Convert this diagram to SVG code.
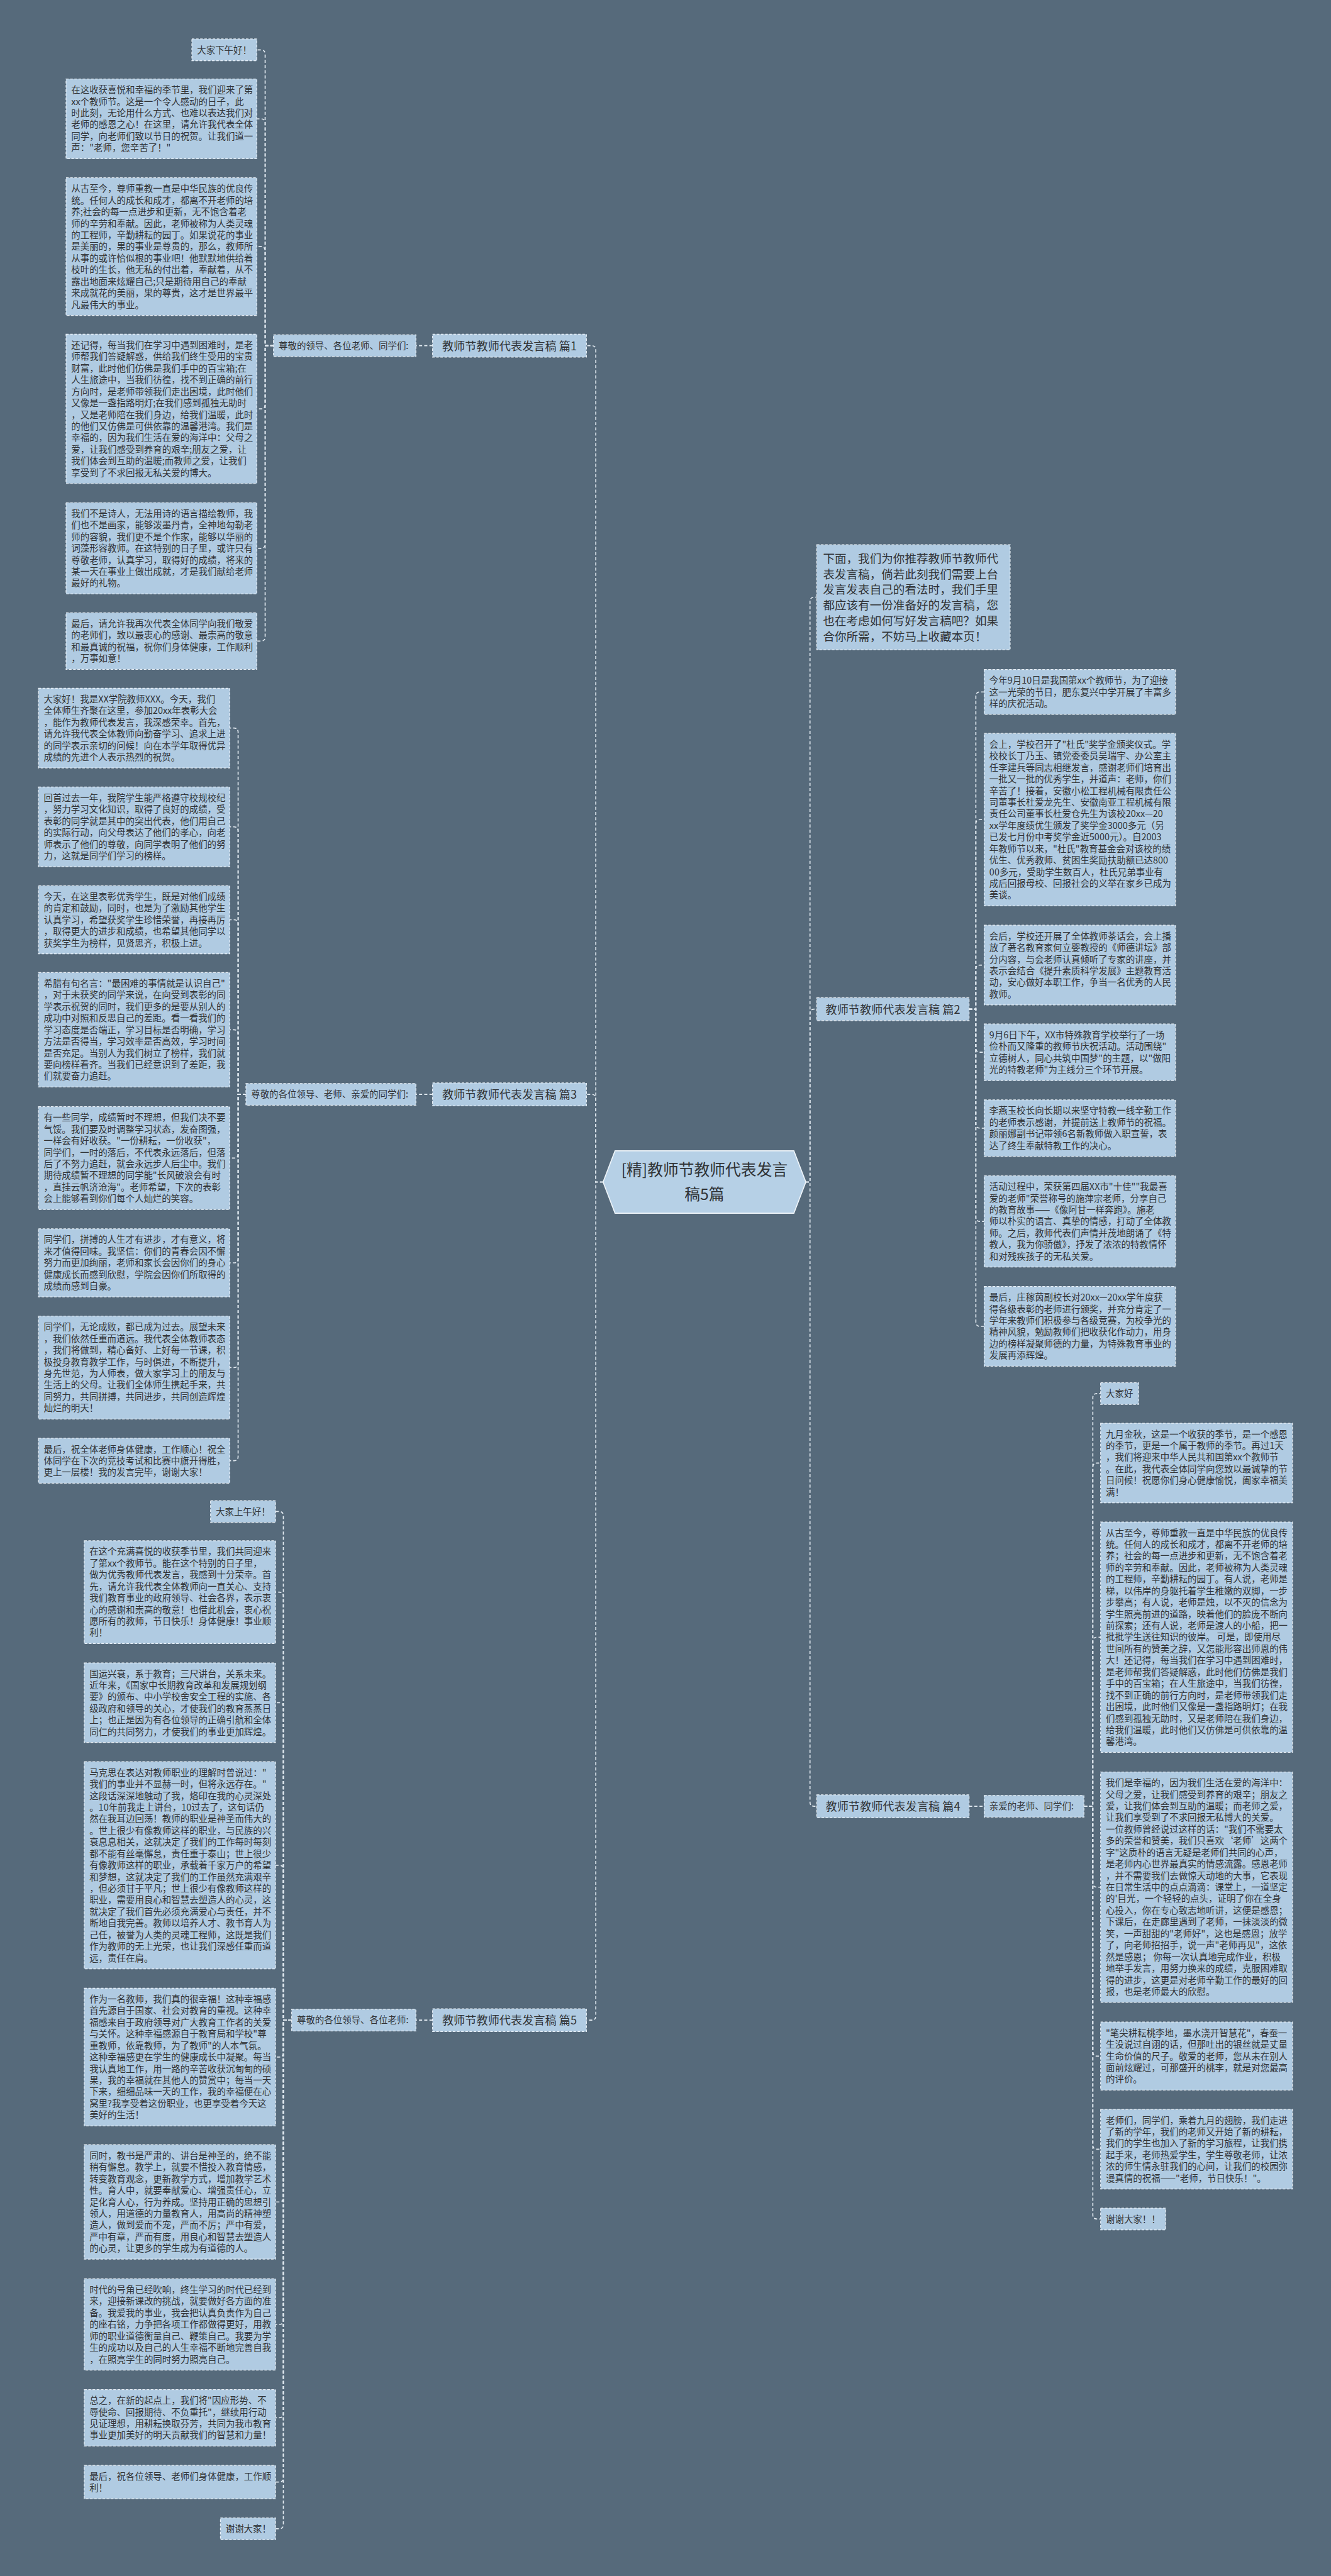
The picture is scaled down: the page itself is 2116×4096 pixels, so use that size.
<svg xmlns="http://www.w3.org/2000/svg" width="2116" height="4096" viewBox="0 0 2116 4096">
<style>
.b{fill:#b0cbe2;stroke:#e8eff6;stroke-width:1.5;stroke-dasharray:5 3}
.t{font-family:"Noto Sans CJK SC","Noto Sans CJK JP",sans-serif;font-size:17.5px;fill:#303336}
.ti{font-family:"Noto Sans CJK SC","Noto Sans CJK JP",sans-serif;font-size:22.5px;fill:#303336}
.tb{font-family:"Noto Sans CJK SC","Noto Sans CJK JP",sans-serif;font-size:22px;fill:#303336;text-anchor:middle}
.tm{font-family:"Noto Sans CJK SC","Noto Sans CJK JP",sans-serif;font-size:30px;fill:#303336;text-anchor:middle}
.c{fill:none;stroke:#e3ebf2;stroke-width:2;stroke-dasharray:6 4}
</style>
<rect x="0" y="0" width="2116" height="4096" fill="#566a7b"/>
<g transform="scale(0.82652)">
<g id="connectors">
<path class="c" d="M526 665 H510 V104 Q510 96 502 96 H494"/>
<path class="c" d="M526 665 H510 V236.65 Q510 228.65 502 228.65 H494"/>
<path class="c" d="M526 665 H510 V482.4 Q510 474.4 502 474.4 H494"/>
<path class="c" d="M526 665 H510 V778.55 Q510 786.55 502 786.55 H494"/>
<path class="c" d="M526 665 H510 V1046.8 Q510 1054.8 502 1054.8 H494"/>
<path class="c" d="M526 665 H510 V1225.35 Q510 1233.35 502 1233.35 H494"/>
<path class="c" d="M832 665 H800"/>
<path class="c" d="M473 2105.4 H458 V1408.65 Q458 1400.65 450 1400.65 H442"/>
<path class="c" d="M473 2105.4 H458 V1598.65 Q458 1590.65 450 1590.65 H442"/>
<path class="c" d="M473 2105.4 H458 V1777.5 Q458 1769.5 450 1769.5 H442"/>
<path class="c" d="M473 2105.4 H458 V1989.1 Q458 1981.1 450 1981.1 H442"/>
<path class="c" d="M473 2105.4 H458 V2219.95 Q458 2227.95 450 2227.95 H442"/>
<path class="c" d="M473 2105.4 H458 V2421.5 Q458 2429.5 450 2429.5 H442"/>
<path class="c" d="M473 2105.4 H458 V2622.95 Q458 2630.95 450 2630.95 H442"/>
<path class="c" d="M473 2105.4 H458 V2802.2 Q458 2810.2 450 2810.2 H442"/>
<path class="c" d="M832 2105.4 H800"/>
<path class="c" d="M561 3886.4 H545 V2915.9 Q545 2907.9 537 2907.9 H530"/>
<path class="c" d="M561 3886.4 H545 V3070.95 Q545 3062.95 537 3062.95 H530"/>
<path class="c" d="M561 3886.4 H545 V3283.65 Q545 3275.65 537 3275.65 H530"/>
<path class="c" d="M561 3886.4 H545 V3596.3 Q545 3588.3 537 3588.3 H530"/>
<path class="c" d="M561 3886.4 H545 V3949.4 Q545 3957.4 537 3957.4 H530"/>
<path class="c" d="M561 3886.4 H545 V4228.1 Q545 4236.1 537 4236.1 H530"/>
<path class="c" d="M561 3886.4 H545 V4463.8 Q545 4471.8 537 4471.8 H530"/>
<path class="c" d="M561 3886.4 H545 V4643.35 Q545 4651.35 537 4651.35 H530"/>
<path class="c" d="M561 3886.4 H545 V4767.05 Q545 4775.05 537 4775.05 H530"/>
<path class="c" d="M561 3886.4 H545 V4856.9 Q545 4864.9 537 4864.9 H530"/>
<path class="c" d="M832 3886.4 H800"/>
<path class="c" d="M1864 1941.4 H1877 V1339.2 Q1877 1331.2 1885 1331.2 H1893"/>
<path class="c" d="M1864 1941.4 H1877 V1584.85 Q1877 1576.85 1885 1576.85 H1893"/>
<path class="c" d="M1864 1941.4 H1877 V1864.65 Q1877 1856.65 1885 1856.65 H1893"/>
<path class="c" d="M1864 1941.4 H1877 V2016.35 Q1877 2024.35 1885 2024.35 H1893"/>
<path class="c" d="M1864 1941.4 H1877 V2162.35 Q1877 2170.35 1885 2170.35 H1893"/>
<path class="c" d="M1864 1941.4 H1877 V2341.8 Q1877 2349.8 1885 2349.8 H1893"/>
<path class="c" d="M1864 1941.4 H1877 V2543.65 Q1877 2551.65 1885 2551.65 H1893"/>
<path class="c" d="M2085 3474.9 H2102 V2688.9 Q2102 2680.9 2110 2680.9 H2117"/>
<path class="c" d="M2085 3474.9 H2102 V2822.65 Q2102 2814.65 2110 2814.65 H2117"/>
<path class="c" d="M2085 3474.9 H2102 V3157.6 Q2102 3149.6 2110 3149.6 H2117"/>
<path class="c" d="M2085 3474.9 H2102 V3622.6 Q2102 3630.6 2110 3630.6 H2117"/>
<path class="c" d="M2085 3474.9 H2102 V3947.5 Q2102 3955.5 2110 3955.5 H2117"/>
<path class="c" d="M2085 3474.9 H2102 V4126.65 Q2102 4134.65 2110 4134.65 H2117"/>
<path class="c" d="M2085 3474.9 H2102 V4260.9 Q2102 4268.9 2110 4268.9 H2117"/>
<path class="c" d="M1864 3474.9 H1893"/>
<path class="c" d="M1160 2274 H1146 V673 Q1146 665 1138 665 H1128"/>
<path class="c" d="M1160 2274 H1146 V2113.4 Q1146 2105.4 1138 2105.4 H1128"/>
<path class="c" d="M1160 2274 H1146 V3878.4 Q1146 3886.4 1138 3886.4 H1128"/>
<path class="c" d="M1550 2274 H1558 V1157 Q1558 1149 1566 1149 H1571"/>
<path class="c" d="M1550 2274 H1558 V1949.4 Q1558 1941.4 1566 1941.4 H1571"/>
<path class="c" d="M1550 2274 H1558 V3466.9 Q1558 3474.9 1566 3474.9 H1571"/>
</g>

<g id="main">
<polygon points="1160,2274 1183,2214 1527,2214 1550,2274 1527,2334 1183,2334" fill="#b6d0e6" stroke="#eef4f9" stroke-width="2"/>
<text class="tm" x="1355" y="2261">[精]教师节教师代表发言</text>
<text class="tm" x="1355" y="2309">稿5篇</text>
</g>

<g id="p1"><rect class="b" x="832" y="643" width="296" height="44"/><text class="tb" x="980" y="673.4">教师节教师代表发言稿 篇1</text></g>
<g id="p3"><rect class="b" x="832" y="2083.4" width="296" height="44"/><text class="tb" x="980" y="2113.8">教师节教师代表发言稿 篇3</text></g>
<g id="p5"><rect class="b" x="832" y="3864.4" width="296" height="44"/><text class="tb" x="980" y="3894.8">教师节教师代表发言稿 篇5</text></g>
<g id="p2"><rect class="b" x="1571" y="1919.4" width="293" height="44"/><text class="tb" x="1717.5" y="1949.8">教师节教师代表发言稿 篇2</text></g>
<g id="p4"><rect class="b" x="1571" y="3452.9" width="293" height="44"/><text class="tb" x="1717.5" y="3483.3">教师节教师代表发言稿 篇4</text></g>

<g id="intro"><rect class="b" x="1571" y="1048" width="372" height="202"/><text class="ti" x="1583" y="1082.5"><tspan x="1583">下面，我们为你推荐教师节教师代</tspan><tspan x="1583" dy="30">表发言稿，倘若此刻我们需要上台</tspan><tspan x="1583" dy="30">发言发表自己的看法时，我们手里</tspan><tspan x="1583" dy="30">都应该有一份准备好的发言稿，您</tspan><tspan x="1583" dy="30">也在考虑如何写好发言稿吧？如果</tspan><tspan x="1583" dy="30">合你所需，不妨马上收藏本页！</tspan></text></g>

<g id="labelA"><rect class="b" x="526" y="644.1" width="274" height="41.8"/><text class="t" x="536" y="671.4">尊敬的领导、各位老师、同学们:</text></g>
<g id="a1"><rect class="b" x="369" y="75" width="125" height="41.8"/><text class="t" x="379" y="102.3">大家下午好！</text></g>
<g id="a2"><rect class="b" x="127" y="152" width="367" height="153.3"/><text class="t" x="137" y="179.3"><tspan x="137">在这收获喜悦和幸福的季节里，我们迎来了第</tspan><tspan x="137" dy="22.3">xx个教师节。这是一个令人感动的日子，此</tspan><tspan x="137" dy="22.3">时此刻，无论用什么方式、也难以表达我们对</tspan><tspan x="137" dy="22.3">老师的感恩之心！在这里，请允许我代表全体</tspan><tspan x="137" dy="22.3">同学，向老师们致以节日的祝贺。让我们道一</tspan><tspan x="137" dy="22.3">声："老师，您辛苦了！"</tspan></text></g>
<g id="a3"><rect class="b" x="127" y="342" width="367" height="264.8"/><text class="t" x="137" y="369.3"><tspan x="137">从古至今，尊师重教一直是中华民族的优良传</tspan><tspan x="137" dy="22.3">统。任何人的成长和成才，都离不开老师的培</tspan><tspan x="137" dy="22.3">养;社会的每一点进步和更新，无不饱含着老</tspan><tspan x="137" dy="22.3">师的辛劳和奉献。因此，老师被称为人类灵魂</tspan><tspan x="137" dy="22.3">的工程师，辛勤耕耘的园丁。如果说花的事业</tspan><tspan x="137" dy="22.3">是美丽的，果的事业是尊贵的，那么，教师所</tspan><tspan x="137" dy="22.3">从事的或许恰似根的事业吧！他默默地供给着</tspan><tspan x="137" dy="22.3">枝叶的生长，他无私的付出着，奉献着，从不</tspan><tspan x="137" dy="22.3">露出地面来炫耀自己;只是期待用自己的奉献</tspan><tspan x="137" dy="22.3">来成就花的美丽，果的尊贵，这才是世界最平</tspan><tspan x="137" dy="22.3">凡最伟大的事业。</tspan></text></g>
<g id="a4"><rect class="b" x="127" y="643" width="367" height="287.1"/><text class="t" x="137" y="670.3"><tspan x="137">还记得，每当我们在学习中遇到困难时，是老</tspan><tspan x="137" dy="22.3">师帮我们答疑解惑，供给我们终生受用的宝贵</tspan><tspan x="137" dy="22.3">财富，此时他们仿佛是我们手中的百宝箱;在</tspan><tspan x="137" dy="22.3">人生旅途中，当我们彷徨，找不到正确的前行</tspan><tspan x="137" dy="22.3">方向时，是老师带领我们走出困境，此时他们</tspan><tspan x="137" dy="22.3">又像是一盏指路明灯;在我们感到孤独无助时</tspan><tspan x="137" dy="22.3">，又是老师陪在我们身边，给我们温暖，此时</tspan><tspan x="137" dy="22.3">的他们又仿佛是可供依靠的温馨港湾。我们是</tspan><tspan x="137" dy="22.3">幸福的，因为我们生活在爱的海洋中：父母之</tspan><tspan x="137" dy="22.3">爱，让我们感受到养育的艰辛;朋友之爱，让</tspan><tspan x="137" dy="22.3">我们体会到互助的温暖;而教师之爱，让我们</tspan><tspan x="137" dy="22.3">享受到了不求回报无私关爱的博大。</tspan></text></g>
<g id="a5"><rect class="b" x="127" y="967" width="367" height="175.6"/><text class="t" x="137" y="994.3"><tspan x="137">我们不是诗人，无法用诗的语言描绘教师，我</tspan><tspan x="137" dy="22.3">们也不是画家，能够泼墨丹青，全神地勾勒老</tspan><tspan x="137" dy="22.3">师的容貌，我们更不是个作家，能够以华丽的</tspan><tspan x="137" dy="22.3">词藻形容教师。在这特别的日子里，或许只有</tspan><tspan x="137" dy="22.3">尊敬老师，认真学习，取得好的成绩，将来的</tspan><tspan x="137" dy="22.3">某一天在事业上做出成就，才是我们献给老师</tspan><tspan x="137" dy="22.3">最好的礼物。</tspan></text></g>
<g id="a6"><rect class="b" x="127" y="1179" width="367" height="108.7"/><text class="t" x="137" y="1206.3"><tspan x="137">最后，请允许我再次代表全体同学向我们敬爱</tspan><tspan x="137" dy="22.3">的老师们，致以最衷心的感谢、最崇高的敬意</tspan><tspan x="137" dy="22.3">和最真诚的祝福，祝你们身体健康，工作顺利</tspan><tspan x="137" dy="22.3">，万事如意！</tspan></text></g>

<g id="labelB"><rect class="b" x="473" y="2084.5" width="327" height="41.8"/><text class="t" x="483" y="2111.8">尊敬的各位领导、老师、亲爱的同学们:</text></g>
<g id="b1"><rect class="b" x="74" y="1324" width="368" height="153.3"/><text class="t" x="84" y="1351.3"><tspan x="84">大家好！我是XX学院教师XXX。今天，我们</tspan><tspan x="84" dy="22.3">全体师生齐聚在这里，参加20xx年表彰大会</tspan><tspan x="84" dy="22.3">，能作为教师代表发言，我深感荣幸。首先，</tspan><tspan x="84" dy="22.3">请允许我代表全体教师向勤奋学习、追求上进</tspan><tspan x="84" dy="22.3">的同学表示亲切的问候！向在本学年取得优异</tspan><tspan x="84" dy="22.3">成绩的先进个人表示热烈的祝贺。</tspan></text></g>
<g id="b2"><rect class="b" x="74" y="1514" width="368" height="153.3"/><text class="t" x="84" y="1541.3"><tspan x="84">回首过去一年，我院学生能严格遵守校规校纪</tspan><tspan x="84" dy="22.3">，努力学习文化知识，取得了良好的成绩，受</tspan><tspan x="84" dy="22.3">表彰的同学就是其中的突出代表，他们用自己</tspan><tspan x="84" dy="22.3">的实际行动，向父母表达了他们的孝心，向老</tspan><tspan x="84" dy="22.3">师表示了他们的尊敬，向同学表明了他们的努</tspan><tspan x="84" dy="22.3">力，这就是同学们学习的榜样。</tspan></text></g>
<g id="b3"><rect class="b" x="74" y="1704" width="368" height="131"/><text class="t" x="84" y="1731.3"><tspan x="84">今天，在这里表彰优秀学生，既是对他们成绩</tspan><tspan x="84" dy="22.3">的肯定和鼓励，同时，也是为了激励其他学生</tspan><tspan x="84" dy="22.3">认真学习，希望获奖学生珍惜荣誉，再接再厉</tspan><tspan x="84" dy="22.3">，取得更大的进步和成绩，也希望其他同学以</tspan><tspan x="84" dy="22.3">获奖学生为榜样，见贤思齐，积极上进。</tspan></text></g>
<g id="b4"><rect class="b" x="74" y="1871" width="368" height="220.2"/><text class="t" x="84" y="1898.3"><tspan x="84">希腊有句名言："最困难的事情就是认识自己"</tspan><tspan x="84" dy="22.3">，对于未获奖的同学来说，在向受到表彰的同</tspan><tspan x="84" dy="22.3">学表示祝贺的同时，我们更多的是要从别人的</tspan><tspan x="84" dy="22.3">成功中对照和反思自己的差距。看一看我们的</tspan><tspan x="84" dy="22.3">学习态度是否端正，学习目标是否明确，学习</tspan><tspan x="84" dy="22.3">方法是否得当，学习效率是否高效，学习时间</tspan><tspan x="84" dy="22.3">是否充足。当别人为我们树立了榜样，我们就</tspan><tspan x="84" dy="22.3">要向榜样看齐。当我们已经意识到了差距，我</tspan><tspan x="84" dy="22.3">们就要奋力追赶。</tspan></text></g>
<g id="b5"><rect class="b" x="74" y="2129" width="368" height="197.9"/><text class="t" x="84" y="2156.3"><tspan x="84">有一些同学，成绩暂时不理想，但我们决不要</tspan><tspan x="84" dy="22.3">气馁。我们要及时调整学习状态，发奋图强，</tspan><tspan x="84" dy="22.3">一样会有好收获。"一份耕耘，一份收获"，</tspan><tspan x="84" dy="22.3">同学们，一时的落后，不代表永远落后，但落</tspan><tspan x="84" dy="22.3">后了不努力追赶，就会永远步人后尘中。我们</tspan><tspan x="84" dy="22.3">期待成绩暂不理想的同学能"长风破浪会有时</tspan><tspan x="84" dy="22.3">，直挂云帆济沧海"。老师希望，下次的表彰</tspan><tspan x="84" dy="22.3">会上能够看到你们每个人灿烂的笑容。</tspan></text></g>
<g id="b6"><rect class="b" x="74" y="2364" width="368" height="131"/><text class="t" x="84" y="2391.3"><tspan x="84">同学们，拼搏的人生才有进步，才有意义，将</tspan><tspan x="84" dy="22.3">来才值得回味。我坚信：你们的青春会因不懈</tspan><tspan x="84" dy="22.3">努力而更加绚丽，老师和家长会因你们的身心</tspan><tspan x="84" dy="22.3">健康成长而感到欣慰，学院会因你们所取得的</tspan><tspan x="84" dy="22.3">成绩而感到自豪。</tspan></text></g>
<g id="b7"><rect class="b" x="74" y="2532" width="368" height="197.9"/><text class="t" x="84" y="2559.3"><tspan x="84">同学们，无论成败，都已成为过去。展望未来</tspan><tspan x="84" dy="22.3">，我们依然任重而道远。我代表全体教师表态</tspan><tspan x="84" dy="22.3">，我们将做到，精心备好、上好每一节课，积</tspan><tspan x="84" dy="22.3">极投身教育教学工作，与时俱进，不断提升，</tspan><tspan x="84" dy="22.3">身先世范，为人师表，做大家学习上的朋友与</tspan><tspan x="84" dy="22.3">生活上的父母。让我们全体师生携起手来，共</tspan><tspan x="84" dy="22.3">同努力，共同拼搏，共同进步，共同创造辉煌</tspan><tspan x="84" dy="22.3">灿烂的明天！</tspan></text></g>
<g id="b8"><rect class="b" x="74" y="2767" width="368" height="86.4"/><text class="t" x="84" y="2794.3"><tspan x="84">最后，祝全体老师身体健康，工作顺心！祝全</tspan><tspan x="84" dy="22.3">体同学在下次的竞技考试和比赛中旗开得胜，</tspan><tspan x="84" dy="22.3">更上一层楼！我的发言完毕，谢谢大家！</tspan></text></g>

<g id="labelE"><rect class="b" x="561" y="3865.5" width="239" height="41.8"/><text class="t" x="571" y="3892.8">尊敬的各位领导、各位老师:</text></g>
<g id="e1"><rect class="b" x="405" y="2887" width="125" height="41.8"/><text class="t" x="415" y="2914.3">大家上午好！</text></g>
<g id="e2"><rect class="b" x="162" y="2964" width="368" height="197.9"/><text class="t" x="172" y="2991.3"><tspan x="172">在这个充满喜悦的收获季节里，我们共同迎来</tspan><tspan x="172" dy="22.3">了第xx个教师节。能在这个特别的日子里，</tspan><tspan x="172" dy="22.3">做为优秀教师代表发言，我感到十分荣幸。首</tspan><tspan x="172" dy="22.3">先，请允许我代表全体教师向一直关心、支持</tspan><tspan x="172" dy="22.3">我们教育事业的政府领导、社会各界，表示衷</tspan><tspan x="172" dy="22.3">心的感谢和崇高的敬意！也借此机会，衷心祝</tspan><tspan x="172" dy="22.3">愿所有的教师，节日快乐！身体健康！事业顺</tspan><tspan x="172" dy="22.3">利！</tspan></text></g>
<g id="e3"><rect class="b" x="162" y="3199" width="368" height="153.3"/><text class="t" x="172" y="3226.3"><tspan x="172">国运兴衰，系于教育；三尺讲台，关系未来。</tspan><tspan x="172" dy="22.3">近年来，《国家中长期教育改革和发展规划纲</tspan><tspan x="172" dy="22.3">要》的颁布、中小学校舍安全工程的实施、各</tspan><tspan x="172" dy="22.3">级政府和领导的关心，才使我们的教育蒸蒸日</tspan><tspan x="172" dy="22.3">上；也正是因为有各位领导的正确引航和全体</tspan><tspan x="172" dy="22.3">同仁的共同努力，才使我们的事业更加辉煌。</tspan></text></g>
<g id="e4"><rect class="b" x="162" y="3389" width="368" height="398.6"/><text class="t" x="172" y="3416.3"><tspan x="172">马克思在表达对教师职业的理解时曾说过："</tspan><tspan x="172" dy="22.3">我们的事业并不显赫一时，但将永远存在。"</tspan><tspan x="172" dy="22.3">这段话深深地触动了我，烙印在我的心灵深处</tspan><tspan x="172" dy="22.3">。10年前我走上讲台，10过去了，这句话仍</tspan><tspan x="172" dy="22.3">然在我耳边回荡！教师的职业是神圣而伟大的</tspan><tspan x="172" dy="22.3">。世上很少有像教师这样的职业，与民族的兴</tspan><tspan x="172" dy="22.3">衰息息相关，这就决定了我们的工作每时每刻</tspan><tspan x="172" dy="22.3">都不能有丝毫懈怠，责任重于泰山；世上很少</tspan><tspan x="172" dy="22.3">有像教师这样的职业，承载着千家万户的希望</tspan><tspan x="172" dy="22.3">和梦想，这就决定了我们的工作虽然充满艰辛</tspan><tspan x="172" dy="22.3">，但必须甘于平凡；世上很少有像教师这样的</tspan><tspan x="172" dy="22.3">职业，需要用良心和智慧去塑造人的心灵，这</tspan><tspan x="172" dy="22.3">就决定了我们首先必须充满爱心与责任，并不</tspan><tspan x="172" dy="22.3">断地自我完善。教师以培养人才、教书育人为</tspan><tspan x="172" dy="22.3">己任，被誉为人类的灵魂工程师，这既是我们</tspan><tspan x="172" dy="22.3">作为教师的无上光荣，也让我们深感任重而道</tspan><tspan x="172" dy="22.3">远，责任在肩。</tspan></text></g>
<g id="e5"><rect class="b" x="162" y="3825" width="368" height="264.8"/><text class="t" x="172" y="3852.3"><tspan x="172">作为一名教师，我们真的很幸福！这种幸福感</tspan><tspan x="172" dy="22.3">首先源自于国家、社会对教育的重视。这种幸</tspan><tspan x="172" dy="22.3">福感来自于政府领导对广大教育工作者的关爱</tspan><tspan x="172" dy="22.3">与关怀。这种幸福感源自于教育局和学校"尊</tspan><tspan x="172" dy="22.3">重教师，依靠教师，为了教师"的人本气氛。</tspan><tspan x="172" dy="22.3">这种幸福感更在学生的健康成长中凝聚。每当</tspan><tspan x="172" dy="22.3">我认真地工作，用一路的辛苦收获沉甸甸的硕</tspan><tspan x="172" dy="22.3">果，我的幸福就在其他人的赞赏中；每当一天</tspan><tspan x="172" dy="22.3">下来，细细品味一天的工作，我的幸福便在心</tspan><tspan x="172" dy="22.3">窝里?我享受着这份职业，也更享受着今天这</tspan><tspan x="172" dy="22.3">美好的生活！</tspan></text></g>
<g id="e6"><rect class="b" x="162" y="4126" width="368" height="220.2"/><text class="t" x="172" y="4153.3"><tspan x="172">同时，教书是严肃的、讲台是神圣的，绝不能</tspan><tspan x="172" dy="22.3">稍有懈怠。教学上，就要不惜投入教育情感，</tspan><tspan x="172" dy="22.3">转变教育观念，更新教学方式，增加教学艺术</tspan><tspan x="172" dy="22.3">性。育人中，就要奉献爱心、增强责任心，立</tspan><tspan x="172" dy="22.3">足化育人心，行为养成。坚持用正确的思想引</tspan><tspan x="172" dy="22.3">领人，用道德的力量教育人，用高尚的精神塑</tspan><tspan x="172" dy="22.3">造人，做到爱而不宠，严而不厉；严中有爱，</tspan><tspan x="172" dy="22.3">严中有章，严而有度，用良心和智慧去塑造人</tspan><tspan x="172" dy="22.3">的心灵，让更多的学生成为有道德的人。</tspan></text></g>
<g id="e7"><rect class="b" x="162" y="4384" width="368" height="175.6"/><text class="t" x="172" y="4411.3"><tspan x="172">时代的号角已经吹响，终生学习的时代已经到</tspan><tspan x="172" dy="22.3">来，迎接新课改的挑战，就要做好各方面的准</tspan><tspan x="172" dy="22.3">备。我爱我的事业，我会把认真负责作为自己</tspan><tspan x="172" dy="22.3">的座右铭，力争把各项工作都做得更好，用教</tspan><tspan x="172" dy="22.3">师的职业道德衡量自己、鞭策自己。我要为学</tspan><tspan x="172" dy="22.3">生的成功以及自己的人生幸福不断地完善自我</tspan><tspan x="172" dy="22.3">，在照亮学生的同时努力照亮自己。</tspan></text></g>
<g id="e8"><rect class="b" x="162" y="4597" width="368" height="108.7"/><text class="t" x="172" y="4624.3"><tspan x="172">总之，在新的起点上，我们将"因应形势、不</tspan><tspan x="172" dy="22.3">辱使命、回报期待、不负重托"，继续用行动</tspan><tspan x="172" dy="22.3">见证理想，用耕耘换取芬芳，共同为我市教育</tspan><tspan x="172" dy="22.3">事业更加美好的明天贡献我们的智慧和力量！</tspan></text></g>
<g id="e9"><rect class="b" x="162" y="4743" width="368" height="64.1"/><text class="t" x="172" y="4770.3"><tspan x="172">最后，祝各位领导、老师们身体健康，工作顺</tspan><tspan x="172" dy="22.3">利！</tspan></text></g>
<g id="e10"><rect class="b" x="424" y="4844" width="106" height="41.8"/><text class="t" x="434" y="4871.3">谢谢大家！</text></g>

<g id="c1"><rect class="b" x="1893" y="1288" width="368" height="86.4"/><text class="t" x="1903" y="1315.3"><tspan x="1903">今年9月10日是我国第xx个教师节，为了迎接</tspan><tspan x="1903" dy="22.3">这一光荣的节日，肥东复兴中学开展了丰富多</tspan><tspan x="1903" dy="22.3">样的庆祝活动。</tspan></text></g>
<g id="c2"><rect class="b" x="1893" y="1411" width="368" height="331.7"/><text class="t" x="1903" y="1438.3"><tspan x="1903">会上，学校召开了"杜氏"奖学金颁奖仪式。学</tspan><tspan x="1903" dy="22.3">校校长丁乃玉、镇党委委员吴瑞宇、办公室主</tspan><tspan x="1903" dy="22.3">任李建兵等同志相继发言，感谢老师们培育出</tspan><tspan x="1903" dy="22.3">一批又一批的优秀学生，并道声：老师，你们</tspan><tspan x="1903" dy="22.3">辛苦了！接着，安徽小松工程机械有限责任公</tspan><tspan x="1903" dy="22.3">司董事长杜爱龙先生、安徽南亚工程机械有限</tspan><tspan x="1903" dy="22.3">责任公司董事长杜爱仓先生为该校20xx—20</tspan><tspan x="1903" dy="22.3">xx学年度绩优生颁发了奖学金3000多元（另</tspan><tspan x="1903" dy="22.3">已发七月份中考奖学金近5000元）。自2003</tspan><tspan x="1903" dy="22.3">年教师节以来，"杜氏"教育基金会对该校的绩</tspan><tspan x="1903" dy="22.3">优生、优秀教师、贫困生奖励扶助额已达800</tspan><tspan x="1903" dy="22.3">00多元，受助学生数百人，杜氏兄弟事业有</tspan><tspan x="1903" dy="22.3">成后回报母校、回报社会的义举在家乡已成为</tspan><tspan x="1903" dy="22.3">美谈。</tspan></text></g>
<g id="c3"><rect class="b" x="1893" y="1780" width="368" height="153.3"/><text class="t" x="1903" y="1807.3"><tspan x="1903">会后，学校还开展了全体教师茶话会，会上播</tspan><tspan x="1903" dy="22.3">放了著名教育家何立婴教授的《师德讲坛》部</tspan><tspan x="1903" dy="22.3">分内容，与会老师认真倾听了专家的讲座，并</tspan><tspan x="1903" dy="22.3">表示会结合《提升素质科学发展》主题教育活</tspan><tspan x="1903" dy="22.3">动，安心做好本职工作，争当一名优秀的人民</tspan><tspan x="1903" dy="22.3">教师。</tspan></text></g>
<g id="c4"><rect class="b" x="1893" y="1970" width="368" height="108.7"/><text class="t" x="1903" y="1997.3"><tspan x="1903">9月6日下午，XX市特殊教育学校举行了一场</tspan><tspan x="1903" dy="22.3">俭朴而又隆重的教师节庆祝活动。活动围绕"</tspan><tspan x="1903" dy="22.3">立德树人，同心共筑中国梦"的主题，以"做阳</tspan><tspan x="1903" dy="22.3">光的特教老师"为主线分三个环节开展。</tspan></text></g>
<g id="c5"><rect class="b" x="1893" y="2116" width="368" height="108.7"/><text class="t" x="1903" y="2143.3"><tspan x="1903">李燕玉校长向长期以来坚守特教一线辛勤工作</tspan><tspan x="1903" dy="22.3">的老师表示感谢，并提前送上教师节的祝福。</tspan><tspan x="1903" dy="22.3">颜丽娜副书记带领6名新教师做入职宣誓，表</tspan><tspan x="1903" dy="22.3">达了终生奉献特教工作的决心。</tspan></text></g>
<g id="c6"><rect class="b" x="1893" y="2262" width="368" height="175.6"/><text class="t" x="1903" y="2289.3"><tspan x="1903">活动过程中，荣获第四届XX市"十佳""我最喜</tspan><tspan x="1903" dy="22.3">爱的老师"荣誉称号的施萍宗老师，分享自己</tspan><tspan x="1903" dy="22.3">的教育故事——《像阿甘一样奔跑》。施老</tspan><tspan x="1903" dy="22.3">师以朴实的语言、真挚的情感，打动了全体教</tspan><tspan x="1903" dy="22.3">师。之后，教师代表们声情并茂地朗诵了《特</tspan><tspan x="1903" dy="22.3">教人，我为你骄傲》，抒发了浓浓的特教情怀</tspan><tspan x="1903" dy="22.3">和对残疾孩子的无私关爱。</tspan></text></g>
<g id="c7"><rect class="b" x="1893" y="2475" width="368" height="153.3"/><text class="t" x="1903" y="2502.3"><tspan x="1903">最后，庄稼茵副校长对20xx—20xx学年度获</tspan><tspan x="1903" dy="22.3">得各级表彰的老师进行颁奖，并充分肯定了一</tspan><tspan x="1903" dy="22.3">学年来教师们积极参与各级竞赛，为校争光的</tspan><tspan x="1903" dy="22.3">精神风貌，勉励教师们把收获化作动力，用身</tspan><tspan x="1903" dy="22.3">边的榜样凝聚师德的力量，为特殊教育事业的</tspan><tspan x="1903" dy="22.3">发展再添辉煌。</tspan></text></g>

<g id="labelD"><rect class="b" x="1893" y="3454" width="192" height="41.8"/><text class="t" x="1903" y="3481.3">亲爱的老师、同学们:</text></g>
<g id="d1"><rect class="b" x="2117" y="2660" width="73" height="41.8"/><text class="t" x="2127" y="2687.3">大家好</text></g>
<g id="d2"><rect class="b" x="2117" y="2738" width="369" height="153.3"/><text class="t" x="2127" y="2765.3"><tspan x="2127">九月金秋，这是一个收获的季节，是一个感恩</tspan><tspan x="2127" dy="22.3">的季节，更是一个属于教师的季节。再过1天</tspan><tspan x="2127" dy="22.3">，我们将迎来中华人民共和国第xx个教师节</tspan><tspan x="2127" dy="22.3">。在此，我代表全体同学向您致以最诚挚的节</tspan><tspan x="2127" dy="22.3">日问候！祝愿你们身心健康愉悦，阖家幸福美</tspan><tspan x="2127" dy="22.3">满！</tspan></text></g>
<g id="d3"><rect class="b" x="2117" y="2928" width="369" height="443.2"/><text class="t" x="2127" y="2955.3"><tspan x="2127">从古至今，尊师重教一直是中华民族的优良传</tspan><tspan x="2127" dy="22.3">统。任何人的成长和成才，都离不开老师的培</tspan><tspan x="2127" dy="22.3">养；社会的每一点进步和更新，无不饱含着老</tspan><tspan x="2127" dy="22.3">师的辛劳和奉献。因此，老师被称为人类灵魂</tspan><tspan x="2127" dy="22.3">的工程师，辛勤耕耘的园丁。有人说，老师是</tspan><tspan x="2127" dy="22.3">梯，以伟岸的身躯托着学生稚嫩的双脚，一步</tspan><tspan x="2127" dy="22.3">步攀高；有人说，老师是烛，以不灭的信念为</tspan><tspan x="2127" dy="22.3">学生照亮前进的道路，映着他们的脸庞不断向</tspan><tspan x="2127" dy="22.3">前探索；还有人说，老师是渡人的小船，把一</tspan><tspan x="2127" dy="22.3">批批学生送往知识的彼岸。 可是，即使用尽</tspan><tspan x="2127" dy="22.3">世间所有的赞美之辞，又怎能形容出师恩的伟</tspan><tspan x="2127" dy="22.3">大！还记得，每当我们在学习中遇到困难时，</tspan><tspan x="2127" dy="22.3">是老师帮我们答疑解惑，此时他们仿佛是我们</tspan><tspan x="2127" dy="22.3">手中的百宝箱；在人生旅途中，当我们彷徨，</tspan><tspan x="2127" dy="22.3">找不到正确的前行方向时，是老师带领我们走</tspan><tspan x="2127" dy="22.3">出困境，此时他们又像是一盏指路明灯；在我</tspan><tspan x="2127" dy="22.3">们感到孤独无助时，又是老师陪在我们身边，</tspan><tspan x="2127" dy="22.3">给我们温暖，此时他们又仿佛是可供依靠的温</tspan><tspan x="2127" dy="22.3">馨港湾。</tspan></text></g>
<g id="d4"><rect class="b" x="2117" y="3409" width="369" height="443.2"/><text class="t" x="2127" y="3436.3"><tspan x="2127">我们是幸福的，因为我们生活在爱的海洋中：</tspan><tspan x="2127" dy="22.3">父母之爱，让我们感受到养育的艰辛；朋友之</tspan><tspan x="2127" dy="22.3">爱，让我们体会到互助的温暖；而老师之爱，</tspan><tspan x="2127" dy="22.3">让我们享受到了不求回报无私博大的关爱。</tspan><tspan x="2127" dy="22.3">一位教师曾经说过这样的话："我们不需要太</tspan><tspan x="2127" dy="22.3">多的荣誉和赞美，我们只喜欢‘老师’这两个</tspan><tspan x="2127" dy="22.3">字"这质朴的语言无疑是老师们共同的心声，</tspan><tspan x="2127" dy="22.3">是老师内心世界最真实的情感流露。感恩老师</tspan><tspan x="2127" dy="22.3">，并不需要我们去做惊天动地的大事，它表现</tspan><tspan x="2127" dy="22.3">在日常生活中的点点滴滴：课堂上，一道坚定</tspan><tspan x="2127" dy="22.3">的'目光，一个轻轻的点头，证明了你在全身</tspan><tspan x="2127" dy="22.3">心投入，你在专心致志地听讲，这便是感恩；</tspan><tspan x="2127" dy="22.3">下课后，在走廊里遇到了老师，一抹淡淡的微</tspan><tspan x="2127" dy="22.3">笑，一声甜甜的"老师好"，这也是感恩；放学</tspan><tspan x="2127" dy="22.3">了，向老师招招手，说一声"老师再见"，这依</tspan><tspan x="2127" dy="22.3">然是感恩； 你每一次认真地完成作业，积极</tspan><tspan x="2127" dy="22.3">地举手发言，用努力换来的成绩，克服困难取</tspan><tspan x="2127" dy="22.3">得的进步，这更是对老师辛勤工作的最好的回</tspan><tspan x="2127" dy="22.3">报，也是老师最大的欣慰。</tspan></text></g>
<g id="d5"><rect class="b" x="2117" y="3890" width="369" height="131"/><text class="t" x="2127" y="3917.3"><tspan x="2127">"笔尖耕耘桃李地，墨水浇开智慧花"，春蚕一</tspan><tspan x="2127" dy="22.3">生没说过自诩的话，但那吐出的银丝就是丈量</tspan><tspan x="2127" dy="22.3">生命价值的尺子。敬爱的老师，您从未在别人</tspan><tspan x="2127" dy="22.3">面前炫耀过，可那盛开的桃李，就是对您最高</tspan><tspan x="2127" dy="22.3">的评价。</tspan></text></g>
<g id="d6"><rect class="b" x="2117" y="4058" width="369" height="153.3"/><text class="t" x="2127" y="4085.3"><tspan x="2127">老师们，同学们，乘着九月的翅膀，我们走进</tspan><tspan x="2127" dy="22.3">了新的学年，我们的老师又开始了新的耕耘，</tspan><tspan x="2127" dy="22.3">我们的学生也加入了新的学习旅程，让我们携</tspan><tspan x="2127" dy="22.3">起手来，老师热爱学生，学生尊敬老师，让浓</tspan><tspan x="2127" dy="22.3">浓的师生情永驻我们的心间，让我们的校园弥</tspan><tspan x="2127" dy="22.3">漫真情的祝福——"老师，节日快乐！"。</tspan></text></g>
<g id="d7"><rect class="b" x="2117" y="4248" width="125" height="41.8"/><text class="t" x="2127" y="4275.3">谢谢大家！！</text></g>
</g>
</svg>
